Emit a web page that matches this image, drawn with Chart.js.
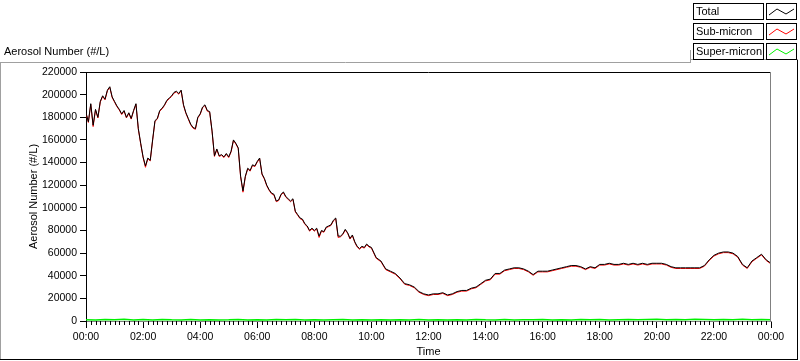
<!DOCTYPE html>
<html>
<head>
<meta charset="utf-8">
<script src="https://cdn.jsdelivr.net/npm/chart.js@4.4.1/dist/chart.umd.min.js"></script>
<style>
  html, body { margin: 0; padding: 0; background: #fff; }
</style>
</head>
<body>
<canvas id="aerosolChart" width="800" height="361"></canvas>
<script>
// ===== DATA (values in thousands of #/L) =====
// sampling grid: every 5 min up to 10:00, then every 10 min
const fineTimes = [];
for (let m = 0; m <= 600; m += 5) fineTimes.push(m);
const coarseTimes = [];
for (let m = 610; m <= 1440; m += 10) coarseTimes.push(m);
const times = fineTimes.concat(coarseTimes);

const totalFine = [
  184,176,192,173,187,180,194,199,196,204,
  207,198,194,190,187,183,186,180,184,179,
  186,192,170,157,145,137,144,142,160,177,
  179,186,188,191,195,197,199,202,203,201,
  204,191,184,179,174,171,170,180,183,189,
  191,186,185,168,146,152,146,147,145,148,
  145,150,160,157,153,128,115,128,135,133,
  138,137,141,144,130,126,120,116,113,112,
  106,107,112,114,110,108,106,108,97,94,
  91,90,86,84,80,82,80,82,75,80,
  79,83,84,85,89,91,75,75,77,81,
  78,73,76,70,66,64,66,65,68,66,
  65
];
const totalCoarse = [
  56,53,46,44,42,38,33,32,30,26,
  24,23,24,24,25,23,24,26,27,27,
  29,30,33,36,37,42,42,45,46,47,
  47,46,44,41,44,44,44,45,46,47,
  48,49,49,48,46,48,47,50,50,51,
  50,50,51,50,51,50,51,50,51,51,
  51,50,48,47,47,47,47,47,47,49,
  54,58,60,61,61,60,57,50,47,53,
  56,59,54,51
];
const subFine = [
  183.4,175.4,191.4,171.8,186.4,179.4,193.4,198.4,195.4,203.4,
  206.4,197.4,193.4,189.4,186.4,182.4,185.4,179.4,183.4,178.4,
  185.4,191.4,169.4,156.4,144.4,135.8,143.4,141.4,159.4,176.4,
  178.4,185.4,187.4,190.4,194.4,196.4,198.4,201.4,202.4,200.4,
  203.4,190.4,183.4,178.4,173.4,170.4,169.4,179.4,182.4,188.4,
  190.4,185.4,184.4,167.4,145.4,151.4,145.4,146.4,144.4,147.4,
  144.4,149.4,159.4,156.4,152.4,127.4,113.8,127.4,134.4,132.4,
  137.4,136.4,140.4,143.4,129.4,125.4,119.4,115.4,112.4,111.4,
  105.4,106.4,111.4,113.4,109.4,107.4,105.4,107.4,96.4,93.4,
  90.4,89.4,85.4,83.4,79.4,81.4,79.4,81.4,73.8,79.4,
  78.4,82.4,83.4,84.4,88.4,90.4,73.8,74.4,76.4,80.4,
  77.4,72.4,75.4,69.4,65.4,63.4,65.4,64.4,67.4,65.4,
  64.4
];
const subCoarse = [
  55.4,52.4,45.4,43.4,41.4,37.4,32.4,31.4,29.4,25.4,
  23.4,22.4,23.4,23.4,24.4,22.4,23.4,25.4,26.4,26.4,
  28.4,29.4,32.4,35.4,36.4,41.4,41.4,44.4,45.4,46.4,
  46.4,45.4,43.4,40.4,43.4,43.4,43.4,44.4,45.4,46.4,
  47.4,48.4,48.4,47.4,45.4,47.4,46.4,49.4,49.4,50.4,
  49.4,49.4,50.4,49.4,50.4,49.4,50.4,49.4,50.4,50.4,
  50.4,49.4,47.4,46.4,46.4,46.4,46.4,46.4,46.4,48.4,
  53.4,57.4,59.4,60.4,60.4,59.4,56.4,49.4,46.4,52.4,
  55.4,58.4,53.4,50.4
];
const totalK = totalFine.concat(totalCoarse);
const subK = subFine.concat(subCoarse);

// super-micron read every 20 min
const superTimes = [];
for (let m = 0; m <= 1440; m += 20) superTimes.push(m);
const superK = [
  1.2,0.9,1.4,1.0,1.5,0.9,1.3,0.8,1.4,1.0,
  0.9,1.3,0.8,1.2,0.8,1.0,1.4,0.9,1.2,0.8,
  1.3,1.0,1.4,0.9,1.2,0.8,1.0,1.3,0.9,1.2,
  0.8,1.0,0.8,1.2,0.9,1.3,0.8,1.0,0.9,1.2,
  0.8,1.3,1.0,0.9,1.4,0.8,1.2,1.0,1.3,0.9,
  1.2,0.8,1.4,1.0,1.3,0.9,1.2,1.4,1.0,1.3,
  1.5,1.2,1.4,1.0,1.6,1.3,1.0,1.4,1.2,1.5,
  1.0,1.3,1.2
];

const timeLabels = ["00:00","02:00","04:00","06:00","08:00","10:00","12:00",
                    "14:00","16:00","18:00","20:00","22:00","00:00"];

const toPoints = (ts, vals) => vals.map((v, i) => ({ x: ts[i], y: v * 1000 }));

const textFont = { family: "Liberation Sans", size: 11 };
const tickFont = { family: "Liberation Sans", size: 10.5 };

// ===== FRAME, LEGEND, MINOR TICKS =====
const decorPlugin = {
  id: "decor",
  afterDraw(chart) {
    const c = chart.ctx;
    const a = chart.chartArea;
    const xs = chart.scales.x;
    c.save();
    c.lineWidth = 1;

    // top + right edge of plot
    c.strokeStyle = "#000";
    c.beginPath(); c.moveTo(a.left, a.top + 0.5); c.lineTo(a.right, a.top + 0.5); c.stroke();
    c.strokeStyle = "#808080";
    c.beginPath(); c.moveTo(a.right - 0.5, a.top); c.lineTo(a.right - 0.5, a.bottom); c.stroke();

    // minor ticks every 10 min
    c.strokeStyle = "#000";
    for (let m = 0; m <= 1440; m += 10) {
      if (m % 120 === 0) continue;
      const px = Math.round(xs.getPixelForValue(m)) + 0.5;
      c.beginPath(); c.moveTo(px, a.bottom); c.lineTo(px, a.bottom + 4); c.stroke();
    }

    // outer frame
    c.strokeStyle = "#a0a0a0";
    c.beginPath(); c.moveTo(0, 62.5); c.lineTo(691, 62.5); c.stroke();
    c.beginPath(); c.moveTo(0.5, 62); c.lineTo(0.5, 360); c.stroke();
    c.beginPath(); c.moveTo(690.5, 50); c.lineTo(690.5, 62); c.stroke();
    c.beginPath(); c.moveTo(690, 59.5); c.lineTo(798, 59.5); c.stroke();
    c.strokeStyle = "#000";
    c.beginPath(); c.moveTo(0, 359.5); c.lineTo(798, 359.5); c.stroke();
    c.beginPath(); c.moveTo(797.5, 60); c.lineTo(797.5, 360); c.stroke();

    // top-left caption
    c.fillStyle = "#000";
    c.font = "11px 'Liberation Sans'";
    c.textBaseline = "middle";
    c.fillText("Aerosol Number (#/L)", 4, 52);

    // legend
    chart.data.datasets.forEach((ds, i) => {
      const y0 = 3 + i * 20;
      c.strokeStyle = "#000";
      c.strokeRect(693.5, y0 + 0.5, 70, 16);
      c.strokeRect(766.5, y0 + 0.5, 30, 16);
      c.fillStyle = "#000";
      c.fillText(ds.label, 696, y0 + 9);
      c.strokeStyle = ds.borderColor;
      c.lineWidth = 1;
      c.beginPath();
      c.moveTo(769, y0 + 12);
      c.lineTo(777, y0 + 6);
      c.lineTo(786, y0 + 11);
      c.lineTo(794, y0 + 6);
      c.stroke();
    });
    c.restore();
  }
};

// ===== CHART =====
const ctx = document.getElementById("aerosolChart").getContext("2d");

const aerosolChart = new Chart(ctx, {
  type: "line",
  data: {
    datasets: [
      { label: "Total", data: toPoints(times, totalK), borderColor: "#000000" },
      { label: "Sub-micron", data: toPoints(times, subK), borderColor: "#ff0000" },
      { label: "Super-micron", data: toPoints(superTimes, superK), borderColor: "#00f000", borderWidth: 1.5 }
    ]
  },
  options: {
    responsive: false,
    animation: false,
    layout: { padding: { top: 72, right: 29, bottom: 0, left: 0 } },
    elements: {
      point: { radius: 0 },
      line: { borderWidth: 1, tension: 0, fill: false }
    },
    plugins: {
      legend: { display: false },
      tooltip: { enabled: false }
    },
    scales: {
      x: {
        type: "linear",
        min: 0,
        max: 1440,
        afterFit: s => { s.height = 40; },
        ticks: {
          stepSize: 120,
          autoSkip: false,
          maxRotation: 0,
          padding: 3,
          color: "#000",
          font: tickFont,
          callback: v => timeLabels[Math.round(v / 120)]
        },
        grid: { drawOnChartArea: false, drawTicks: true, tickLength: 7, color: "#000" },
        border: { color: "#808080" },
        title: { display: true, text: "Time", color: "#000", font: textFont, padding: { top: 0, bottom: 2 } }
      },
      y: {
        min: 0,
        max: 220000,
        afterFit: s => { s.width = 86; },
        ticks: {
          stepSize: 20000,
          padding: 3,
          color: "#000",
          font: tickFont,
          callback: v => String(v)
        },
        grid: { drawOnChartArea: false, drawTicks: true, tickLength: 6, color: "#000" },
        border: { color: "#000" },
        title: {
          display: true,
          text: "Aerosol Number (#/L)",
          color: "#000",
          font: textFont,
          padding: { top: 27, bottom: 0 }
        }
      }
    }
  },
  plugins: [decorPlugin]
});
</script>
</body>
</html>
